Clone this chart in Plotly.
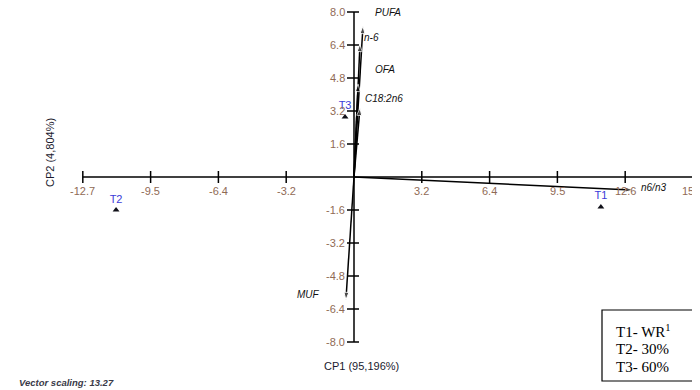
import plotly.graph_objects as go

# ---- data ----
sample_names = ["T1", "T2", "T3"]
sample_cp1 = [11.58, -11.16, -0.42]
sample_cp2 = [-1.45, -1.60, 2.91]

vector_names = ["PUFA", "n-6", "OFA", "C18:2n6", "n6/n3", "MUF"]
vector_cp1 = [0.42, 0.28, 0.19, 0.28, 13.09, -0.38]
vector_cp2 = [7.32, 6.45, 4.51, 3.35, -0.63, -5.96]

x_tick_vals = [-12.72, -9.54, -6.36, -3.18, 3.18, 6.36, 9.54, 12.72, 15.9]
x_tick_text = ["-12.7", "-9.5", "-6.4", "-3.2", "3.2", "6.4", "9.5", "12.6", "15.9"]
y_tick_vals = [8.0, 6.4, 4.8, 3.2, 1.6, -1.6, -3.2, -4.8, -6.4, -8.0]
y_tick_text = ["8.0", "6.4", "4.8", "3.2", "1.6", "-1.6", "-3.2", "-4.8", "-6.4", "-8.0"]

legend_lines = ["T1- WR<sup>1</sup>", "T2- 30%", "T3- 60%"]
x_title = "CP1 (95,196%)"
y_title = "CP2 (4,804%)"
scaling_note = "Vector scaling: 13.27"

# ---- styling / geometry ----
OFF = 8          # page body margin
W, H = 700 - OFF, 390 - OFF
X0, Y0 = 354, 177  # screen px of origin
PXX = 21.32   # px per x unit
PXY = 20.625  # px per y unit
TICK_COL = "#8f6a55"
FONT = "Liberation Sans, Arial, sans-serif"


def px(sx):
    return (sx - OFF) / W


def py(sy):
    return 1 - (sy - OFF) / H


fig = go.Figure()

# axes lines
fig.add_trace(go.Scatter(x=[x_tick_vals[0], x_tick_vals[-1]], y=[0, 0], mode="lines",
                         line=dict(color="black", width=1.5), hoverinfo="skip"))
fig.add_trace(go.Scatter(x=[0, 0], y=[min(y_tick_vals), max(y_tick_vals)], mode="lines",
                         line=dict(color="black", width=1.5), hoverinfo="skip"))

# tick marks
tx, ty = [], []
for v in x_tick_vals:
    tx += [v, v, None]
    ty += [-6 / PXY, 6 / PXY, None]
for v in y_tick_vals:
    tx += [-7 / PXX, 5 / PXX, None]
    ty += [v, v, None]
fig.add_trace(go.Scatter(x=tx, y=ty, mode="lines", line=dict(color="black", width=1.5),
                         hoverinfo="skip"))

# vectors
for name, vx, vy in zip(vector_names, vector_cp1, vector_cp2):
    fig.add_trace(go.Scatter(
        x=[0, vx], y=[0, vy], mode="lines+markers",
        line=dict(color="black", width=1.5),
        marker=dict(symbol=["circle", "arrow"], size=[1, 8], angleref="previous",
                    color="black"),
        hoverinfo="skip"))

# samples
fig.add_trace(go.Scatter(
    x=sample_cp1, y=sample_cp2, mode="markers+text", text=sample_names,
    textposition="top center",
    textfont=dict(family=FONT, size=11, color="#3b3bd8"),
    marker=dict(symbol="triangle-up", size=6, color="#101018"),
    hoverinfo="skip"))

annotations = []
# tick labels
for v, t in zip(x_tick_vals, x_tick_text):
    annotations.append(dict(x=v, y=0, xref="x", yref="y", text=t, showarrow=False,
                            xanchor="center", yanchor="top", yshift=-6,
                            font=dict(family=FONT, size=11, color=TICK_COL)))
for v, t in zip(y_tick_vals, y_tick_text):
    annotations.append(dict(x=0, y=v, xref="x", yref="y", text=t, showarrow=False,
                            xanchor="right", yanchor="middle", xshift=-7,
                            font=dict(family=FONT, size=11, color=TICK_COL)))

# vector labels (offsets in px from vector tips)
label_offsets = {
    "PUFA": (10, 14, "left"),
    "n-6": (2, 6, "left"),
    "OFA": (15, 14, "left"),
    "C18:2n6": (3, 9, "left"),
    "n6/n3": (6, 2, "left"),
    "MUF": (-24, 5, "right"),
}
for name, vx, vy in zip(vector_names, vector_cp1, vector_cp2):
    dx, dy, anc = label_offsets[name]
    annotations.append(dict(x=vx, y=vy, xref="x", yref="y", text="<i>" + name + "</i>",
                            showarrow=False, xanchor=anc, yanchor="middle",
                            xshift=dx, yshift=dy,
                            font=dict(family=FONT, size=10, color="#111111")))

# axis titles & note
annotations.append(dict(x=px(50), y=py(153), xref="paper", yref="paper",
                        text=y_title, textangle=-90, showarrow=False,
                        xanchor="center", yanchor="middle",
                        font=dict(family=FONT, size=11, color="#1a1a2e")))
annotations.append(dict(x=px(361), y=py(366), xref="paper", yref="paper",
                        text=x_title, showarrow=False, xanchor="center", yanchor="middle",
                        font=dict(family=FONT, size=11, color="#1a1a2e")))
annotations.append(dict(x=px(17), y=py(382), xref="paper", yref="paper",
                        text="<b><i>" + scaling_note + "</i></b>", showarrow=False,
                        xanchor="left", yanchor="middle",
                        font=dict(family=FONT, size=9.5, color="#3a3a48")))

# legend box text
for i, line in enumerate(legend_lines):
    annotations.append(dict(x=px(614), y=py(331 + 18 * i), xref="paper",
                            yref="paper", text=line, showarrow=False,
                            xanchor="left", yanchor="middle",
                            font=dict(family="Liberation Serif, Times New Roman, serif",
                                      size=15, color="black")))

shapes = [dict(type="rect", xref="paper", yref="paper",
               x0=px(602), x1=px(695), y0=py(381), y1=py(310),
               line=dict(color="black", width=1.2), fillcolor="rgba(0,0,0,0)")]

fig.update_layout(
    width=W, height=H, autosize=False,
    margin=dict(l=0, r=0, t=0, b=0),
    paper_bgcolor="white", plot_bgcolor="white",
    showlegend=False,
    xaxis=dict(range=[(OFF - X0) / PXX, (700 - X0) / PXX], visible=False, fixedrange=True),
    yaxis=dict(range=[(Y0 - 390) / PXY, (Y0 - OFF) / PXY], visible=False, fixedrange=True),
    annotations=annotations, shapes=shapes,
)

fig.write_html("out.html")
